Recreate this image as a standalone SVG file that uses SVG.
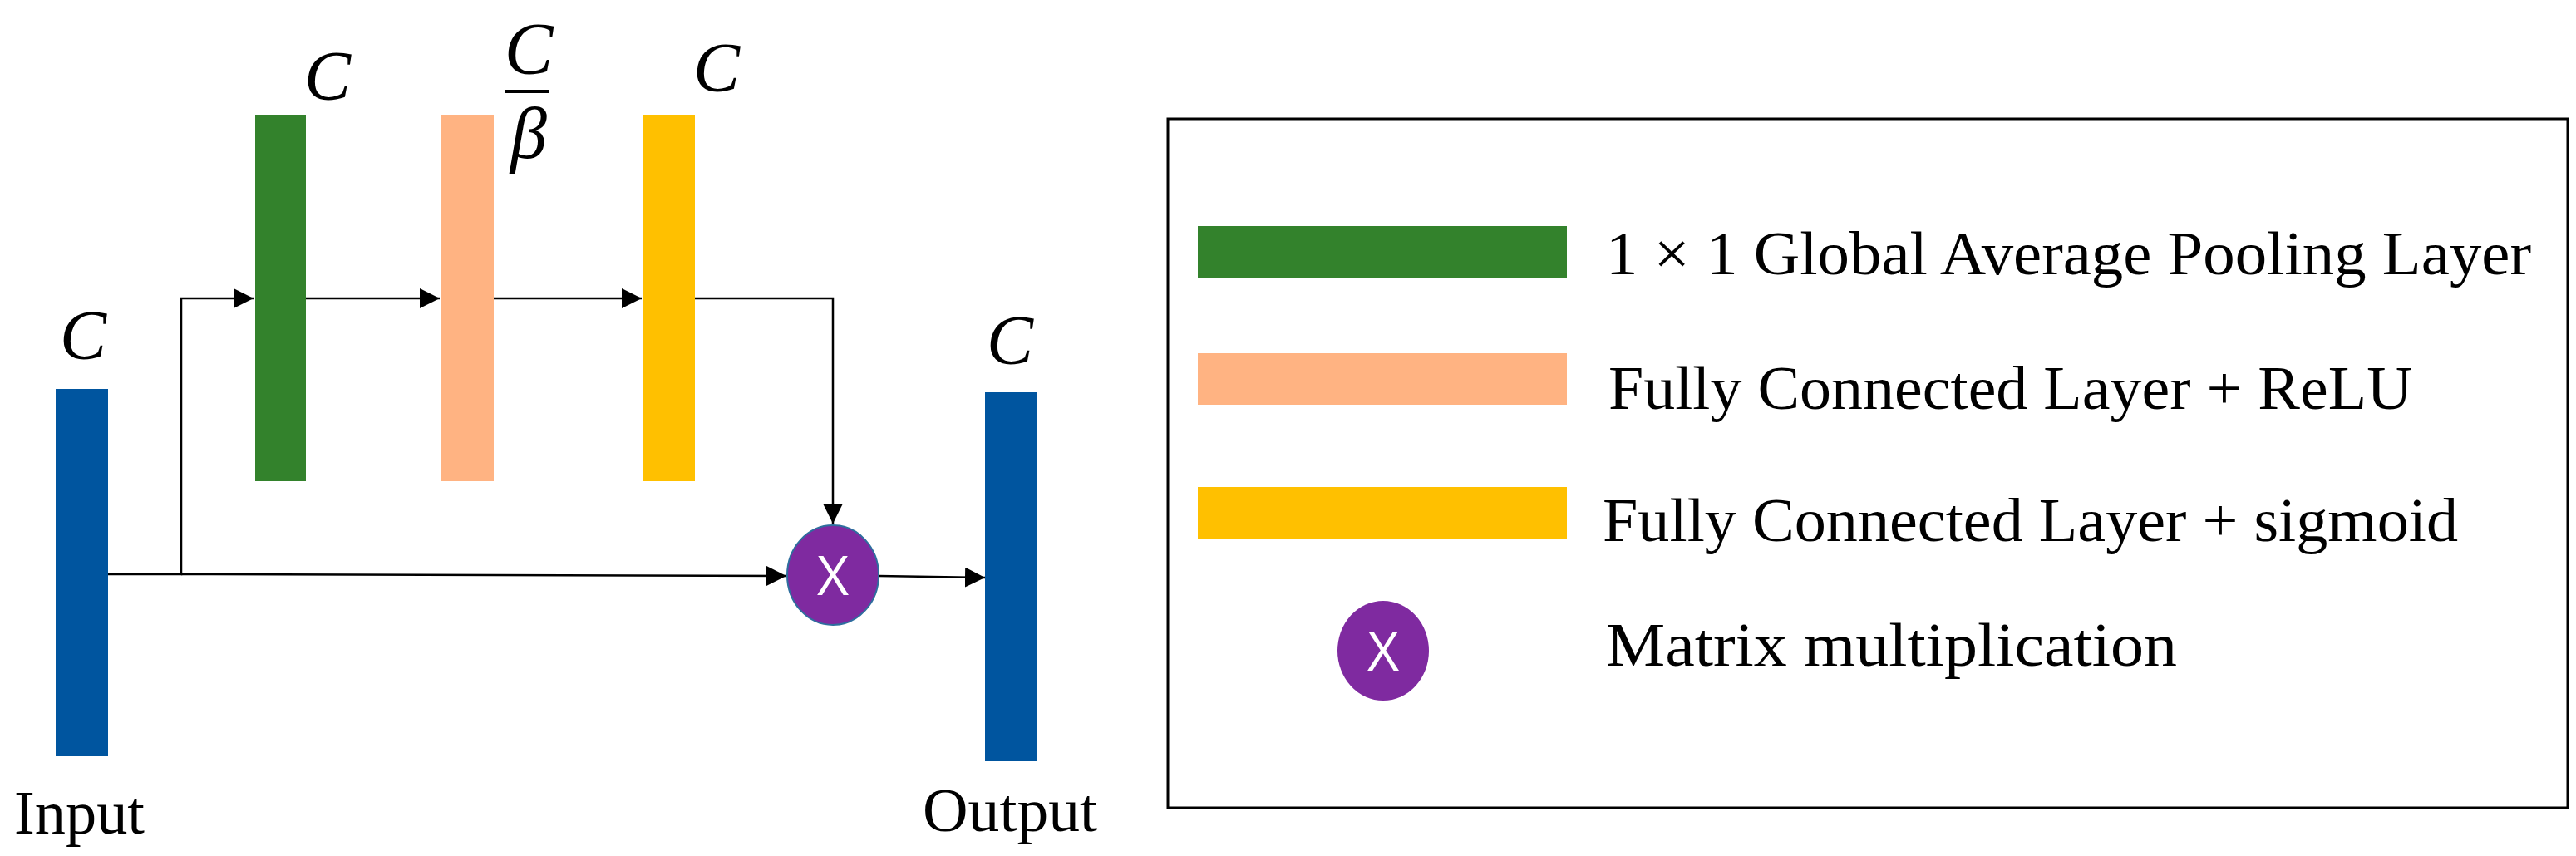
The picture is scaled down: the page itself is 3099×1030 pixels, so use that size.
<svg xmlns="http://www.w3.org/2000/svg" width="3099" height="1030" viewBox="0 0 3099 1030">
<style>
.lbl{font-family:"Liberation Serif",serif;font-size:74px;fill:#000}
.c{font-family:"Liberation Serif",serif;font-style:italic;font-size:84px;fill:#000;text-anchor:middle}
.f{font-size:88px}
.x{font-family:"Open Sans",sans-serif;font-size:66px;fill:#fff;text-anchor:middle}
.ln{stroke:#000;stroke-width:2.5;fill:none}
</style>
<defs>
<marker id="ah" viewBox="0 0 10 10" refX="10" refY="5" markerWidth="24" markerHeight="24" markerUnits="userSpaceOnUse" orient="auto"><path d="M0,0 L10,5 L0,10z" fill="#000"/></marker></defs>
<g id="connectors">
<path class="ln" d="M130,691 L218,691 L218,359 L305,359" marker-end="url(#ah)"/>
<path class="ln" d="M368,359 L529,359" marker-end="url(#ah)"/>
<path class="ln" d="M593,359 L772,359" marker-end="url(#ah)"/>
<path class="ln" d="M836,359 L1002,359 L1002,630" marker-end="url(#ah)"/>
<path class="ln" d="M218,691 L946,693" marker-end="url(#ah)"/>
<path class="ln" d="M1057,693 L1185,695" marker-end="url(#ah)"/>
</g>
<g id="input"><rect x="67" y="468" width="63" height="442" fill="#00559F"/><text class="c" x="100" y="432">C</text><text class="lbl" x="17" y="1003" textLength="157" lengthAdjust="spacingAndGlyphs">Input</text></g>
<g id="gap"><rect x="307" y="138" width="61" height="441" fill="#33822C"/><text class="c" x="394" y="120">C</text></g>
<g id="fc1"><rect x="531" y="138" width="63" height="441" fill="#FFB382"/><text class="c f" x="636" y="88">C</text><line x1="608" y1="110" x2="660" y2="110" stroke="#000" stroke-width="4"/><text class="c f" x="636" y="190">β</text></g>
<g id="fc2"><rect x="773" y="138" width="63" height="441" fill="#FFC000"/><text class="c" x="862" y="110">C</text></g>
<g id="mult"><ellipse cx="1002" cy="692" rx="55" ry="60" fill="#7F2AA0" stroke="#2E6E9E" stroke-width="2"/><text class="x" x="1002" y="716">X</text></g>
<g id="output"><rect x="1185" y="472" width="62" height="444" fill="#00559F"/><text class="c" x="1215" y="438">C</text><text class="lbl" x="1110" y="1000" textLength="210" lengthAdjust="spacingAndGlyphs">Output</text></g>
<g id="legend">
<rect x="1405" y="143" width="1684" height="829" fill="none" stroke="#000" stroke-width="3"/>
<rect x="1441" y="272" width="444" height="63" fill="#33822C"/>
<rect x="1441" y="425" width="444" height="62" fill="#FFB382"/>
<rect x="1441" y="586" width="444" height="62" fill="#FFC000"/>
<ellipse cx="1664" cy="783" rx="55" ry="60" fill="#7F2AA0"/><text class="x" x="1664" y="807">X</text>
<text class="lbl" x="1932" y="330" textLength="1113" lengthAdjust="spacingAndGlyphs">1 × 1 Global Average Pooling Layer</text>
<text class="lbl" x="1935" y="492" textLength="967" lengthAdjust="spacingAndGlyphs">Fully Connected Layer + ReLU</text>
<text class="lbl" x="1928" y="651" textLength="1029" lengthAdjust="spacingAndGlyphs">Fully Connected Layer + sigmoid</text>
<text class="lbl" x="1932" y="801" textLength="687" lengthAdjust="spacingAndGlyphs">Matrix multiplication</text>
</g>
</svg>
